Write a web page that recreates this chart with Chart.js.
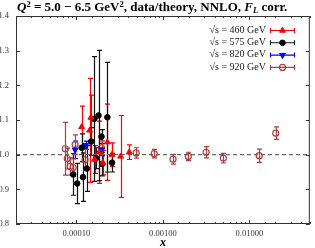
<!DOCTYPE html>
<html>
<head>
<meta charset="utf-8">
<script src="https://cdn.jsdelivr.net/npm/chart.js@4.4.1/dist/chart.umd.min.js"></script>
<style>
html, body { margin: 0; padding: 0; background: #fff; }
#wrap { position: relative; width: 315px; height: 248px; }
#titulo { position: absolute; left: 17px; top: -1px; font: bold 13px "Liberation Serif", serif; white-space: nowrap; line-height: 15px; color: #000; }
#titulo sup { font-size: 8.5px; position: relative; top: -4px; vertical-align: baseline; }
#titulo sub { font-size: 8.5px; position: relative; top: 2px; vertical-align: baseline; }
</style>
</head>
<body>
<div id="wrap">
  <canvas id="grafico" width="315" height="248"></canvas>
  <div id="titulo"><i>Q</i><sup>2</sup> = 5.0 − 6.5 GeV<sup>2</sup>, data/theory, NNLO, <i>F</i><sub><i>L</i></sub> corr.</div>
</div>
<script>
// ========== DADOS ==========

// sqrt(s) = 460 GeV
const x460 = [1.15e-4, 1.42e-4, 1.47e-4, 1.62e-4, 1.83e-4, 2.02e-4, 2.28e-4, 2.58e-4, 3.24e-4, 4.08e-4];
const y460 = [1.080, 1.070, 1.107, 0.986, 1.007, 0.977, 1.036, 1.000, 0.995, 1.007];
const e460 = [0.060, 0.150, 0.065, 0.040, 0.090, 0.035, 0.110, 0.034, 0.118, 0.021];

// sqrt(s) = 575 GeV
const x575 = [9.17e-5, 1.02e-4, 1.15e-4, 1.19e-4, 1.32e-4, 1.48e-4, 1.61e-4, 1.69e-4, 1.80e-4, 1.95e-4, 1.98e-4, 2.28e-4, 2.58e-4];
const y575 = [0.943, 0.917, 1.020, 0.935, 0.960, 1.038, 1.103, 0.990, 1.113, 1.052, 0.973, 1.108, 0.977];
const e575 = [0.060, 0.058, 0.040, 0.070, 0.066, 0.040, 0.180, 0.030, 0.188, 0.020, 0.034, 0.158, 0.027];

// sqrt(s) = 820 GeV
const x820 = [9.66e-5, 1.28e-4, 1.95e-4];
const y820 = [1.014, 1.027, 1.015];
const e820 = [0.025, 0.012, 0.018];

// sqrt(s) = 920 GeV
const x920 = [7.43e-5, 7.83e-5, 8.47e-5, 9.17e-5, 9.66e-5, 1.26e-4, 1.95e-4, 4.91e-4, 7.93e-4, 1.31e-3, 1.97e-3, 3.16e-3, 5.0e-3, 1.30e-2, 2.02e-2];
const y920 = [1.017, 0.989, 0.966, 0.963, 1.029, 0.985, 1.020, 1.005, 1.003, 0.987, 0.995, 1.007, 0.990, 0.997, 1.062];
const e920 = [0.076, 0.030, 0.025, 0.025, 0.028, 0.030, 0.020, 0.015, 0.012, 0.014, 0.012, 0.016, 0.014, 0.019, 0.018];

const rotulos = ["√s = 460 GeV", "√s = 575 GeV", "√s = 820 GeV", "√s = 920 GeV"];

// limites dos eixos
const xMin = 2e-5, xMax = 0.05;
const yMin = 0.8, yMax = 1.4;
const linhaUm = [{ x: xMin, y: 1 }, { x: xMax, y: 1 }];

const fonte = "'Liberation Serif', serif";

function pontos(xs, ys) {
    return xs.map((v, i) => ({ x: v, y: ys[i] }));
}

function ehMaior(v) {
    const l = Math.log10(v);
    return Math.abs(l - Math.round(l)) < 1e-6;
}

// ========== PLUGIN: BARRAS DE ERRO ==========
const barrasErro = {
    id: "barrasErro",
    beforeDatasetsDraw(chart) {
        const { ctx, scales: { x, y } } = chart;
        ctx.save();
        chart.data.datasets.forEach(ds => {
            if (!ds.erros) return;
            ctx.strokeStyle = ds.corBarra;
            ctx.lineWidth = 1.2;
            ds.data.forEach((p, j) => {
                const px = Math.round(x.getPixelForValue(p.x)) + 0.5;
                const y1 = y.getPixelForValue(p.y - ds.erros[j]);
                const y2 = y.getPixelForValue(p.y + ds.erros[j]);
                ctx.beginPath();
                ctx.moveTo(px, y1); ctx.lineTo(px, y2);
                ctx.moveTo(px - 2.5, y1); ctx.lineTo(px + 2.5, y1);
                ctx.moveTo(px - 2.5, y2); ctx.lineTo(px + 2.5, y2);
                ctx.stroke();
            });
        });
        ctx.restore();
    }
};

// ========== PLUGIN: MOLDURA, TICKS E LEGENDA ==========
const moldura = {
    id: "moldura",
    afterDraw(chart) {
        const { ctx, chartArea: a, scales: { x, y } } = chart;
        ctx.save();
        ctx.strokeStyle = "#333";
        ctx.lineWidth = 1;
        ctx.strokeRect(a.left + 0.5, a.top + 0.5, a.right - a.left - 1, a.bottom - a.top - 1);

        ctx.beginPath();
        x.ticks.forEach(t => {
            const px = Math.round(x.getPixelForValue(t.value)) + 0.5;
            const len = ehMaior(t.value) ? 4 : 2;
            ctx.moveTo(px, a.bottom); ctx.lineTo(px, a.bottom - len);
            ctx.moveTo(px, a.top); ctx.lineTo(px, a.top + len);
        });
        y.ticks.forEach(t => {
            const py = Math.round(y.getPixelForValue(t.value)) + 0.5;
            ctx.moveTo(a.left, py); ctx.lineTo(a.left + 4, py);
            ctx.moveTo(a.right, py); ctx.lineTo(a.right - 4, py);
        });
        ctx.stroke();

        // legenda
        const series = chart.data.datasets.filter(ds => ds.erros);
        series.forEach((ds, i) => {
            const yy = 30 + i * 12.3;
            ctx.fillStyle = "#222";
            ctx.font = "10px " + fonte;
            ctx.textAlign = "right";
            ctx.textBaseline = "middle";
            ctx.fillText(rotulos[i], 266, yy);

            ctx.strokeStyle = ds.corBarra;
            ctx.lineWidth = 1.1;
            ctx.beginPath();
            ctx.moveTo(270, yy + 0.5); ctx.lineTo(295, yy + 0.5);
            ctx.moveTo(270.5, yy - 2); ctx.lineTo(270.5, yy + 3);
            ctx.moveTo(294.5, yy - 2); ctx.lineTo(294.5, yy + 3);
            ctx.stroke();

            ctx.fillStyle = ds.pointBackgroundColor;
            ctx.strokeStyle = ds.pointBorderColor;
            ctx.lineWidth = ds.pointBorderWidth;
            Chart.helpers.drawPoint(ctx, {
                pointStyle: ds.pointStyle,
                rotation: ds.pointRotation || 0,
                radius: ds.pointRadius,
                borderWidth: ds.pointBorderWidth
            }, 282.5, yy + 0.5);
        });
        ctx.restore();
    }
};

const ctx = document.getElementById("grafico").getContext("2d");
window.grafico = new Chart(ctx, {
    type: "scatter",
    data: {
        datasets: [
            {
                label: rotulos[0],
                data: pontos(x460, y460),
                erros: e460,
                corBarra: "#ff0000",
                pointStyle: "triangle",
                pointRadius: 3.4,
                pointBackgroundColor: "#ff0000",
                pointBorderColor: "#ff0000",
                pointBorderWidth: 1
            },
            {
                label: rotulos[1],
                data: pontos(x575, y575),
                erros: e575,
                corBarra: "#111",
                pointStyle: "circle",
                pointRadius: 2.8,
                pointBackgroundColor: "#000",
                pointBorderColor: "#000",
                pointBorderWidth: 1
            },
            {
                label: rotulos[2],
                data: pontos(x820, y820),
                erros: e820,
                corBarra: "#0000ff",
                pointStyle: "triangle",
                pointRotation: 180,
                pointRadius: 3.4,
                pointBackgroundColor: "#0000ff",
                pointBorderColor: "#0000ff",
                pointBorderWidth: 1
            },
            {
                label: rotulos[3],
                data: pontos(x920, y920),
                erros: e920,
                corBarra: "#b03c3c",
                pointStyle: "circle",
                pointRadius: 3,
                pointBackgroundColor: "rgba(255,255,255,0)",
                pointBorderColor: "#b03c3c",
                pointBorderWidth: 1.2
            },
            {
                type: "line",
                label: "unidade",
                data: linhaUm,
                borderColor: "#666",
                borderWidth: 1.3,
                borderDash: [4, 3],
                pointRadius: 0
            }
        ]
    },
    options: {
        responsive: false,
        animation: false,
        devicePixelRatio: 1,
        layout: { padding: { top: 16, right: 2, left: 0, bottom: 0 } },
        plugins: {
            legend: { display: false },
            tooltip: { enabled: false }
        },
        scales: {
            x: {
                type: "logarithmic",
                min: xMin,
                max: xMax,
                grid: { display: false, drawTicks: false },
                border: { display: false },
                ticks: {
                    autoSkip: false,
                    maxRotation: 0,
                    padding: 5,
                    color: "#333",
                    font: { family: fonte, size: 8.5 },
                    callback: v => ehMaior(v) ? v.toFixed(5) : ""
                },
                title: {
                    display: true,
                    text: "x",
                    color: "#000",
                    padding: { top: 0, bottom: -2 },
                    font: { family: fonte, size: 12, style: "italic", weight: "bold" }
                },
                afterFit: s => { s.height = 24; }
            },
            y: {
                min: yMin,
                max: yMax,
                grid: { display: false, drawTicks: false },
                border: { display: false },
                ticks: {
                    stepSize: 0.1,
                    padding: 7,
                    color: "#333",
                    font: { family: fonte, size: 8.5 }
                },
                afterFit: s => { s.width = 16; }
            }
        }
    },
    plugins: [barrasErro, moldura]
});
</script>
</body>
</html>
